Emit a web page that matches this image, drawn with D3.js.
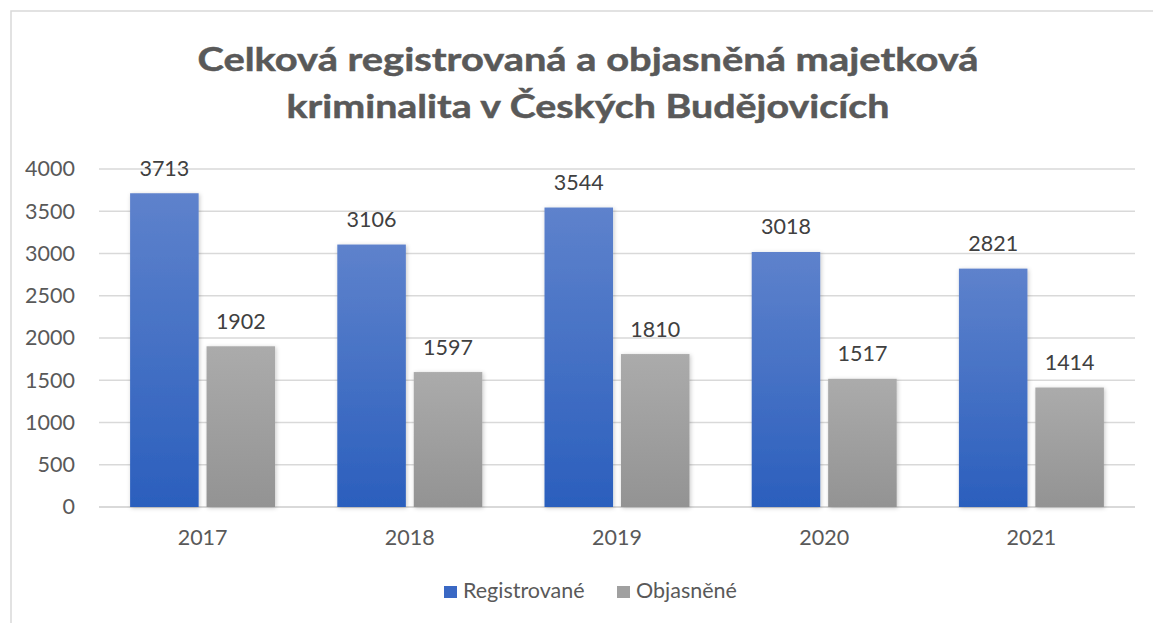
<!DOCTYPE html>
<html>
<head>
<meta charset="utf-8">
<script src="https://cdn.jsdelivr.net/npm/d3@7"></script>
<style>
  body { margin: 0; background: #fff; }
  svg text { font-family: Lato, "Open Sans", sans-serif; }
</style>
</head>
<body>
<div id="chart"></div>
<script>
const years = ["2017", "2018", "2019", "2020", "2021"];
const registrovane = [3713, 3106, 3544, 3018, 2821];
const objasnene = [1902, 1597, 1810, 1517, 1414];
const seriesNames = ["Registrované", "Objasněné"];
const yTicks = [0, 500, 1000, 1500, 2000, 2500, 3000, 3500, 4000];
const titleLines = ["Celková registrovaná a objasněná majetková", "kriminalita v Českých Budějovicích"];
const titleWidths = [781, 603];

const width = 1153,
  height = 623;
const margin = { top: 169, right: 18, bottom: 116, left: 99 };
const innerW = width - margin.left - margin.right;
const innerH = height - margin.top - margin.bottom;
const fontSize = 21.5;

const svg = d3
  .select("#chart")
  .append("svg")
  .attr("width", width)
  .attr("height", height);

const defs = svg.append("defs");

function gradient(id, top, bottom) {
  const g = defs
    .append("linearGradient")
    .attr("id", id)
    .attr("x1", 0)
    .attr("y1", 0)
    .attr("x2", 0)
    .attr("y2", 1);
  g.append("stop").attr("offset", "0%").attr("stop-color", top);
  g.append("stop").attr("offset", "100%").attr("stop-color", bottom);
}
gradient("blueGrad", "#5e82cc", "#2b5fbd");
gradient("grayGrad", "#ababab", "#939393");

defs
  .append("filter")
  .attr("id", "shadow")
  .attr("x", "-20%")
  .attr("y", "-5%")
  .attr("width", "140%")
  .attr("height", "110%")
  .append("feDropShadow")
  .attr("dx", 1)
  .attr("dy", 1)
  .attr("stdDeviation", 2)
  .attr("flood-color", "#000")
  .attr("flood-opacity", 0.22);

// chart frame (runs past the window on right and bottom)
svg
  .append("rect")
  .attr("x", 11)
  .attr("y", 11)
  .attr("width", width + 20)
  .attr("height", height + 20)
  .attr("fill", "#fff")
  .attr("stroke", "#d9d9d9")
  .attr("stroke-width", 1.5);

// title, stretched to the reference width
svg
  .append("g")
  .selectAll("text")
  .data(titleLines)
  .enter()
  .append("text")
  .attr("x", 588)
  .attr("y", (d, i) => 71 + i * 47)
  .attr("text-anchor", "middle")
  .attr("font-size", 33)
  .attr("font-weight", "bold")
  .attr("fill", "#595959")
  .attr("stroke", "#595959")
  .attr("stroke-width", 0.5)
  .attr("textLength", (d, i) => titleWidths[i])
  .attr("lengthAdjust", "spacingAndGlyphs")
  .text((d) => d);

const g = svg
  .append("g")
  .attr("transform", `translate(${margin.left},${margin.top})`);

const x0 = d3.scaleBand().domain(years).range([0, innerW]);
const x1 = d3
  .scaleBand()
  .domain(seriesNames)
  .range([x0.bandwidth() / 2 - 72.5, x0.bandwidth() / 2 + 72.5])
  .paddingInner(15 / 145);
const y = d3.scaleLinear().domain([0, 4000]).range([innerH, 0]);

// gridlines
g.append("g")
  .selectAll("line")
  .data(yTicks)
  .enter()
  .append("line")
  .attr("x1", 0)
  .attr("x2", innerW)
  .attr("y1", (d) => y(d))
  .attr("y2", (d) => y(d))
  .attr("stroke", "#d9d9d9")
  .attr("stroke-width", (d) => (d === 0 ? 2 : 1.5));

// y axis labels
const yAxis = g
  .append("g")
  .call(
    d3
      .axisLeft(y)
      .tickValues(yTicks)
      .tickFormat(d3.format("d"))
      .tickSize(0)
      .tickPadding(24)
  );
yAxis.select(".domain").remove();
yAxis
  .selectAll("text")
  .attr("font-size", fontSize)
  .attr("fill", "#595959")
  .attr("font-family", null);

// x axis labels
const xAxis = g
  .append("g")
  .attr("transform", `translate(0,${innerH})`)
  .call(d3.axisBottom(x0).tickSize(0).tickPadding(23));
xAxis.select(".domain").remove();
xAxis
  .selectAll("text")
  .attr("font-size", fontSize)
  .attr("fill", "#595959")
  .attr("font-family", null);

const rows = years.map((yr, i) => ({
  year: yr,
  values: [
    { key: seriesNames[0], value: registrovane[i] },
    { key: seriesNames[1], value: objasnene[i] },
  ],
}));

const fills = { [seriesNames[0]]: "url(#blueGrad)", [seriesNames[1]]: "url(#grayGrad)" };
const legendFills = { [seriesNames[0]]: "#3a68c4", [seriesNames[1]]: "#a0a0a0" };

const groups = g
  .selectAll(".year")
  .data(rows)
  .enter()
  .append("g")
  .attr("class", "year")
  .attr("transform", (d) => `translate(${x0(d.year)},0)`);

groups
  .selectAll("rect")
  .data((d) => d.values)
  .enter()
  .append("rect")
  .attr("x", (d) => x1(d.key))
  .attr("width", x1.bandwidth())
  .attr("y", (d) => y(d.value))
  .attr("height", (d) => innerH - y(d.value))
  .attr("fill", (d) => fills[d.key])
  .attr("filter", "url(#shadow)");

groups
  .selectAll(".label")
  .data((d) => d.values)
  .enter()
  .append("text")
  .attr("class", "label")
  .attr("x", (d) => x1(d.key) + x1.bandwidth() / 2)
  .attr("y", (d) => y(d.value) - 17.5)
  .attr("text-anchor", "middle")
  .attr("font-size", fontSize)
  .attr("fill", "#404040")
  .text((d) => d.value);

// legend
const legend = svg
  .append("g")
  .selectAll("g")
  .data(seriesNames)
  .enter()
  .append("g")
  .attr("transform", (d, i) => `translate(${444 + i * 173},0)`);

legend
  .append("rect")
  .attr("x", 0)
  .attr("y", 586)
  .attr("width", 13)
  .attr("height", 12)
  .attr("fill", (d) => legendFills[d]);

legend
  .append("text")
  .attr("x", 19)
  .attr("y", 598)
  .attr("font-size", fontSize)
  .attr("fill", "#595959")
  .text((d) => d);
</script>
</body>
</html>
